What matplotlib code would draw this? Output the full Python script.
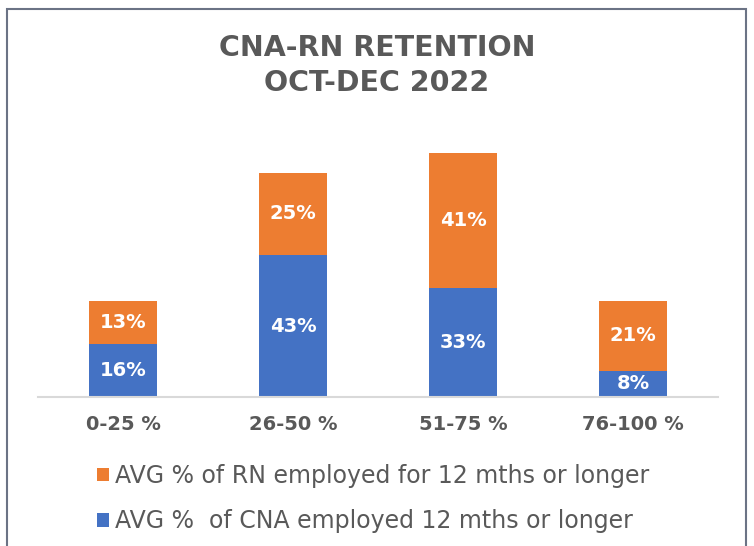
import matplotlib.pyplot as plt
from matplotlib.patches import Rectangle
import numpy as np

categories = ['0-25 %', '26-50 %', '51-75 %', '76-100 %']
cna_pct = [16, 43, 33, 8]
rn_pct = [13, 25, 41, 21]
cna_label = 'AVG %  of CNA employed 12 mths or longer'
rn_label = 'AVG % of RN employed for 12 mths or longer'

blue = '#4472C4'
orange = '#ED7D31'
gray_txt = '#595959'

plt.rcParams['font.family'] = ['DejaVu Sans']

fig = plt.figure(figsize=(7.54, 5.46), dpi=100)
ax = fig.add_axes([38 / 754, 1 - 397 / 546, 680 / 754, 277 / 546])

x = np.arange(len(categories))
b1 = ax.bar(x, cna_pct, width=0.4, color=blue, label=cna_label)
b2 = ax.bar(x, rn_pct, width=0.4, bottom=cna_pct, color=orange, label=rn_label)

for bars, vals in ((b1, cna_pct), (b2, rn_pct)):
    for rect, v in zip(bars, vals):
        ax.text(rect.get_x() + rect.get_width() / 2,
                rect.get_y() + rect.get_height() / 2,
                f'{v}%', ha='center', va='center', color='white',
                fontsize=14, fontweight='bold')

ax.set_xlim(-0.5, 3.5)
ax.set_ylim(0, 84)
ax.set_xticks(x)
ax.set_xticklabels(categories, fontsize=14, fontweight='bold', color=gray_txt)
ax.tick_params(axis='x', length=0, pad=13)
ax.set_yticks([])
for s in ('top', 'left', 'right'):
    ax.spines[s].set_visible(False)
ax.spines['bottom'].set_color('#d9d9d9')
ax.spines['bottom'].set_linewidth(1.5)

fig.text(0.5, 1 - 48 / 546, 'CNA-RN RETENTION', ha='center', va='center',
         fontsize=20.5, fontweight='bold', color=gray_txt)
fig.text(0.5, 1 - 83 / 546, 'OCT-DEC 2022', ha='center', va='center',
         fontsize=20.5, fontweight='bold', color=gray_txt)

leg = fig.legend([b2, b1], [rn_label, cna_label],
                 loc='upper left', bbox_to_anchor=(97 / 754, 1 - 464 / 546),
                 frameon=False, fontsize=17, labelcolor=gray_txt,
                 handlelength=0.5, handleheight=0.5, handletextpad=0.25,
                 labelspacing=0.9, borderpad=0, borderaxespad=0)

# outer chart border
fig.patches.append(Rectangle((7 / 754, -0.1), 739 / 754, 1.1 - 9 / 546,
                             transform=fig.transFigure, fill=False,
                             edgecolor='#6b7385', linewidth=1.5))

fig.savefig('out.png', dpi=100)
